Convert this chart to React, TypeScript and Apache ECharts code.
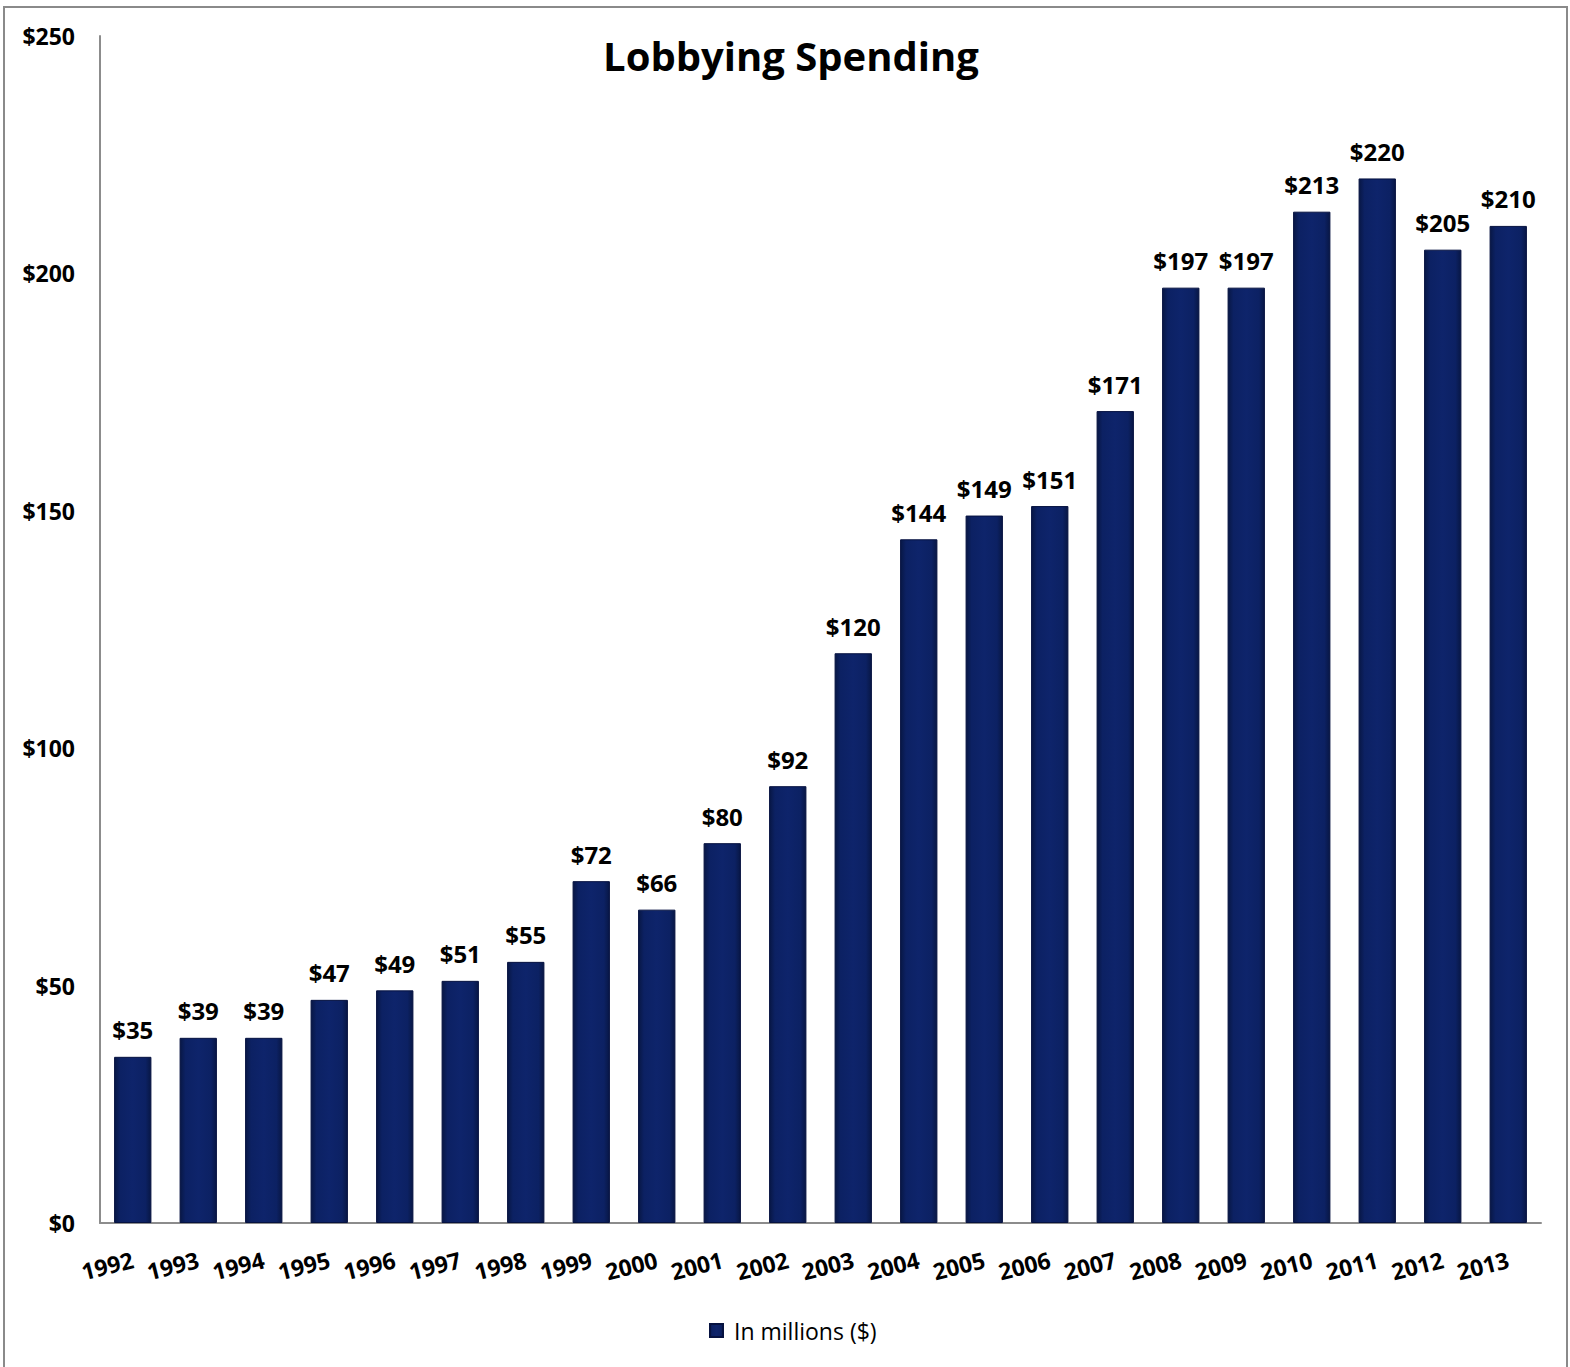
import React, { useEffect, useRef } from "react";
import * as echarts from "echarts";

const years = ["1992","1993","1994","1995","1996","1997","1998","1999","2000","2001","2002","2003","2004","2005","2006","2007","2008","2009","2010","2011","2012","2013"];
const spending = [35,39,39,47,49,51,55,72,66,80,92,120,144,149,151,171,197,197,213,220,205,210];
const seriesName = "In millions ($)";
const titleText = "Lobbying Spending";

const FONT = "'Open Sans', Lato, sans-serif";

export default function App() {
  const ref = useRef<HTMLDivElement>(null);
  useEffect(() => {
    if (!ref.current) return;
    const chart = echarts.init(ref.current, null, { renderer: "svg" });
    const barColor = new echarts.graphic.LinearGradient(0, 0, 1, 0, [
      { offset: 0, color: "#081745" },
      { offset: 0.15, color: "#0c2163" },
      { offset: 0.5, color: "#0e246b" },
      { offset: 0.85, color: "#0c2163" },
      { offset: 1, color: "#081745" },
    ]);
    chart.setOption({
      animation: false,
      backgroundColor: "#ffffff",
      textStyle: { fontFamily: FONT },
      title: {
        text: titleText,
        left: 786,
        textAlign: "center",
        top: 30,
        textStyle: { fontSize: 40, fontWeight: "bold", color: "#000", fontFamily: FONT },
      },
      graphic: [
        {
          type: "rect",
          shape: { x: 4, y: 7, width: 1563, height: 1372 },
          style: { fill: "none", stroke: "#8a8a8a", lineWidth: 2 },
          silent: true,
        },
      ],
      legend: {
        data: [seriesName],
        left: 704,
        top: 1314,
        itemWidth: 13,
        itemHeight: 13,
        itemGap: 10,
        icon: "rect",
        textStyle: { fontSize: 23, color: "#000", fontFamily: FONT, padding: [0, 0, 0, 6] },
      },
      grid: { left: 100, right: 29, top: 36, bottom: 144, containLabel: false },
      xAxis: {
        type: "category",
        data: years,
        axisLine: { lineStyle: { color: "#8c8c8c", width: 2 } },
        axisTick: { show: false },
        axisLabel: {
          rotate: 14,
          interval: 0,
          margin: 36,
          fontSize: 23,
          fontWeight: "bold",
          color: "#000",
          fontFamily: FONT,
        },
      },
      yAxis: {
        type: "value",
        min: 0,
        max: 250,
        interval: 50,
        splitLine: { show: false },
        axisLine: { show: true, lineStyle: { color: "#8c8c8c", width: 2 } },
        axisTick: { show: false },
        axisLabel: {
          formatter: (v: number) => "$" + v,
          margin: 25,
          fontSize: 23,
          fontWeight: "bold",
          color: "#000",
          fontFamily: FONT,
        },
      },
      series: [
        {
          name: seriesName,
          type: "bar",
          data: spending,
          barCategoryGap: "43%",
          itemStyle: { color: barColor, borderColor: "#061240", borderWidth: 1 },
          label: {
            show: true,
            position: "top",
            distance: 15,
            formatter: (p: any) => "$" + p.value,
            fontSize: 24,
            fontWeight: "bold",
            color: "#000",
            fontFamily: FONT,
          },
        },
      ],
    });
    return () => chart.dispose();
  }, []);
  return (
    <div
      ref={ref}
      style={{ position: "fixed", left: 0, top: 0, width: 1570, height: 1367, background: "#fff" }}
    />
  );
}
